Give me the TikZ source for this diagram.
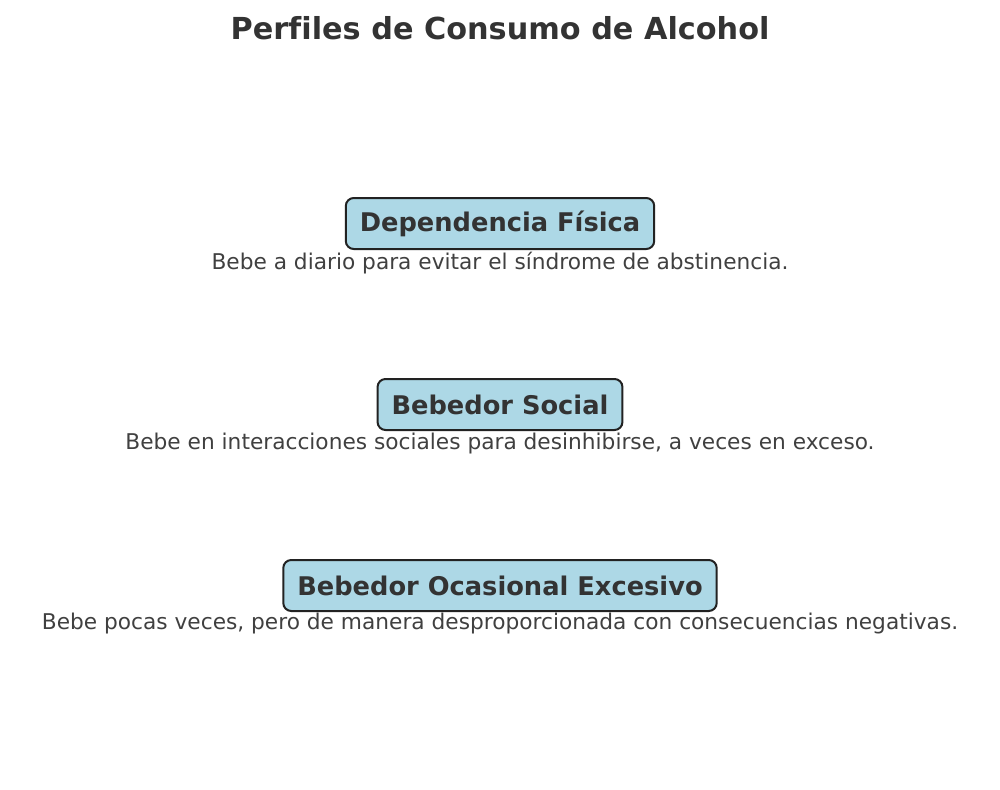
\documentclass[tikz,border=0pt]{standalone}
\usepackage{fontspec}
\setmainfont[Ligatures={NoCommon}]{DejaVu Sans}
\definecolor{txt}{HTML}{333333}
\definecolor{desctxt}{HTML}{404040}
\definecolor{boxfill}{HTML}{ADD8E6}
\definecolor{boxline}{HTML}{222222}
\begin{document}
\begin{tikzpicture}[x=1pt,y=-1pt,
  titlestyle/.style={font=\fontsize{30.3}{34}\selectfont\bfseries, text=txt},
  profilebox/.style={draw=boxline, line width=2pt, fill=boxfill, rounded corners=8pt,
    inner xsep=14pt, inner ysep=0pt, minimum height=51pt,
    font=\fontsize{25.7}{30}\selectfont\bfseries, text=txt},
  desc/.style={font=\fontsize{21.7}{26}\selectfont, text=desctxt, inner sep=0pt}]
\useasboundingbox (0,0) rectangle (1000,789);
\node[titlestyle] (title) at (500,28) {Perfiles de Consumo de Alcohol};
\node[profilebox] (b1) at (500,223.5) {Dependencia Física};
\node[desc, anchor=base] (d1) at (500,269) {Bebe a diario para evitar el síndrome de abstinencia.};
\node[profilebox] (b2) at (500,404.5) {Bebedor Social};
\node[desc, anchor=base] (d2) at (500,449) {Bebe en interacciones sociales para desinhibirse, a veces en exceso.};
\node[profilebox] (b3) at (500,585.5) {Bebedor Ocasional Excesivo};
\node[desc, anchor=base] (d3) at (500,629) {Bebe pocas veces, pero de manera desproporcionada con consecuencias negativas.};
\end{tikzpicture}
\end{document}
